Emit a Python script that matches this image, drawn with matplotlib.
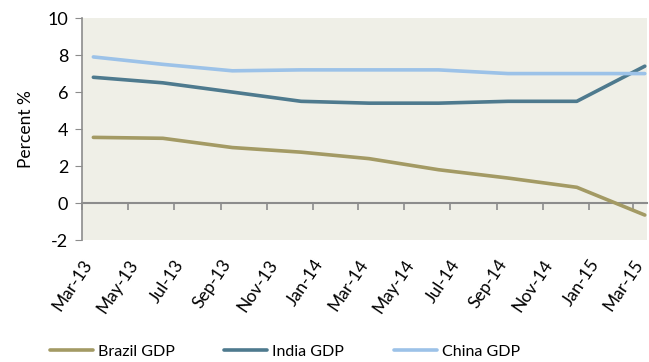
import matplotlib

matplotlib.use("Agg")
import matplotlib.dates as mdates
import matplotlib.pyplot as plt
import pandas as pd

# Quarterly GDP growth
dates = pd.to_datetime([
    "2013-03-16", "2013-06-16", "2013-09-16", "2013-12-16", "2014-03-16",
    "2014-06-16", "2014-09-16", "2014-12-16", "2015-03-16",
])
brazil = [3.55, 3.5, 3.0, 2.75, 2.4, 1.8, 1.35, 0.85, -0.65]
india = [6.8, 6.5, 6.0, 5.5, 5.4, 5.4, 5.5, 5.5, 7.4]
china = [7.9, 7.5, 7.15, 7.2, 7.2, 7.2, 7.0, 7.0, 7.0]

tick_dates = pd.date_range("2013-03-01", "2015-03-01", freq="2MS")
y_ticks = [-2, 0, 2, 4, 6, 8, 10]

plt.rcParams["font.family"] = ["Lato", "DejaVu Sans"]
plt.rcParams["axes.unicode_minus"] = False

fig = plt.figure(figsize=(6.49, 3.62), dpi=100)
ax = fig.add_axes([0.1264, 0.337, 0.8706, 0.613])
ax.set_facecolor("#EFEFE7")

ax.plot(dates, brazil, color="#A39A64", lw=2.6, label="Brazil GDP", solid_capstyle="round")
ax.plot(dates, india, color="#4E7A8E", lw=2.6, label="India GDP", solid_capstyle="round")
ax.plot(dates, china, color="#9CC2E8", lw=2.6, label="China GDP", solid_capstyle="round")

ax.set_xlim(pd.Timestamp("2013-03-01"), pd.Timestamp("2015-03-19"))
ax.set_ylim(-2, 10)
ax.set_yticks(y_ticks)
ax.set_xticks(tick_dates)
ax.xaxis.set_major_formatter(mdates.DateFormatter("%b-%y"))
ax.tick_params(axis="x", length=0, pad=12, labelsize=12.5)
plt.setp(ax.get_xticklabels(), rotation=56, ha="right", rotation_mode="anchor")
ax.tick_params(axis="y", length=5, color="#8C8C8C", labelsize=13, pad=5)

for side in ["top", "right", "bottom"]:
    ax.spines[side].set_visible(False)
ax.spines["left"].set_color("#8C8C8C")
ax.spines["left"].set_linewidth(1.2)

# zero line with its own tick marks
sec = ax.secondary_xaxis(2 / 12)
sec.set_xticks(tick_dates)
sec.tick_params(length=5, color="#8C8C8C", labelbottom=False, width=1.2)
sec.spines["bottom"].set_color("#8C8C8C")
sec.spines["bottom"].set_linewidth(1.5)

ax.set_ylabel("Percent %", fontsize=12.5, labelpad=10)

fig.legend(loc="center left", bbox_to_anchor=(0.077, 0.028), ncol=3, frameon=False,
           fontsize=11.5, handlelength=2.7, columnspacing=3.1, handletextpad=0.3,
           borderpad=0, borderaxespad=0)

fig.savefig("out.png", dpi=100)
